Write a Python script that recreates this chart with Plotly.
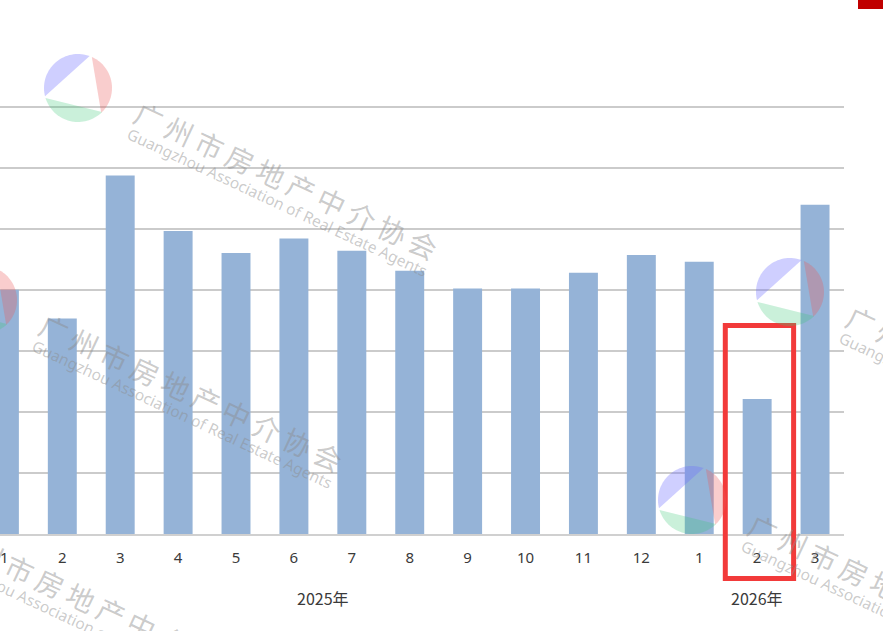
import math
import plotly.graph_objects as go

# ---- data (one gridline = 1 unit) ----
months = ["1", "2", "3", "4", "5", "6", "7", "8", "9", "10", "11", "12", "1", "2", "3"]
years = ["2025年"] * 12 + ["2026年"] * 3
values = [4.00, 3.53, 5.87, 4.96, 4.60, 4.84, 4.64, 4.31, 4.02, 4.02, 4.28, 4.57, 4.46, 2.21, 5.39]
highlight_index = 13

positions = list(range(len(months)))

# ---- layout geometry (pixels) ----
FIG_W, FIG_H = 883, 631
M_L, M_R, M_T, M_B = 0, 39, 76, 97
PW = FIG_W - M_L - M_R
PH = FIG_H - M_T - M_B
PLOT_BOTTOM = FIG_H - M_B


def px_x(px):
    return (px - M_L) / PW


def px_y(py):
    return (PLOT_BOTTOM - py) / PH


BAR_COLOR = "#95b3d7"
TEXT_COLOR = "#3a3a3a"

fig = go.Figure()
fig.add_trace(go.Bar(
    x=positions, y=values, width=0.5,
    marker=dict(color=BAR_COLOR, line=dict(width=0)),
    hoverinfo="skip", showlegend=False,
))

shapes = []
annotations = []

# group (year) labels under the month labels
for yr in dict.fromkeys(years):
    idx = [p for p, y in zip(positions, years) if y == yr]
    annotations.append(dict(
        x=sum(idx) / len(idx), xref="x", y=px_y(598), yref="paper",
        text=yr, showarrow=False, xanchor="center", yanchor="middle",
        font=dict(family="Noto Sans CJK SC", size=16, color=TEXT_COLOR),
    ))

# red highlight box around the highlighted bar
shapes.append(dict(
    type="rect", xref="x", yref="paper",
    x0=highlight_index - 0.55, x1=highlight_index + 0.63,
    y0=px_y(578.5), y1=px_y(325.5),
    line=dict(color="#f23a3a", width=5), fillcolor="rgba(0,0,0,0)", layer="above",
))

# small dark red block at the top right corner
shapes.append(dict(
    type="rect", xref="paper", yref="paper",
    x0=px_x(858), x1=px_x(884), y0=px_y(9), y1=px_y(-1),
    line=dict(width=0), fillcolor="#c00000", layer="above",
))


# ---- watermarks (logo + rotated text) ----
def segment_path(cx, cy, r, a0, a1, n=36):
    pts = []
    for k in range(n + 1):
        t = math.radians(a0 + (a1 - a0) * k / n)
        pts.append((px_x(cx + r * math.cos(t)), px_y(cy - r * math.sin(t))))
    d = "M " + " L ".join(f"{x:.5f},{y:.5f}" for x, y in pts) + " Z"
    return d


def add_logo(cx, cy, r=34):
    for a0, a1, col in [(70, 194, "rgba(110,110,255,0.33)"),
                        (-47, 66, "rgba(235,90,90,0.30)"),
                        (197, 315, "rgba(60,200,120,0.27)")]:
        shapes.append(dict(type="path", xref="paper", yref="paper",
                           path=segment_path(cx, cy, r, a0, a1),
                           fillcolor=col, line=dict(width=0), layer="above"))


WM_CN = "\u2009".join("广州市房地产中介协会")
WM_EN = "Guangzhou Association of Real Estate Agents"
WM_COLOR = "rgba(140,140,140,0.45)"


def add_watermark(lx, ly, logo=True):
    if logo:
        add_logo(lx, ly)
    annotations.append(dict(
        x=px_x(lx + 208), y=px_y(ly + 92), xref="paper", yref="paper",
        text=WM_CN, showarrow=False, textangle=25, xanchor="center", yanchor="middle",
        font=dict(family="Noto Sans CJK SC", size=28, color=WM_COLOR),
    ))
    annotations.append(dict(
        x=px_x(lx + 199), y=px_y(ly + 114), xref="paper", yref="paper",
        text=WM_EN, showarrow=False, textangle=25, xanchor="center", yanchor="middle",
        font=dict(family="Noto Sans", size=15.5, color=WM_COLOR),
    ))


add_watermark(78, 88)
add_watermark(-17, 300)
add_watermark(790, 292)
add_watermark(692, 500)
add_watermark(-112, 512, logo=False)

fig.update_layout(
    width=FIG_W, height=FIG_H,
    margin=dict(l=M_L, r=M_R, t=M_T, b=M_B, pad=0),
    paper_bgcolor="white", plot_bgcolor="white",
    bargap=0.5,
    xaxis=dict(
        range=[-0.076, len(months) - 0.5],
        tickmode="array", tickvals=positions, ticktext=months,
        showgrid=False, zeroline=False,
        showline=True, linecolor="#d0d0d0", linewidth=2,
        ticks="outside", ticklen=9, tickcolor="rgba(0,0,0,0)",
        tickfont=dict(family="Noto Sans", size=15, color=TEXT_COLOR),
        fixedrange=True,
    ),
    yaxis=dict(
        range=[0, 7.5], dtick=1, tick0=0,
        showgrid=True, gridcolor="#cbcbcb", gridwidth=1.5,
        zeroline=False, showticklabels=False, showline=False,
        fixedrange=True,
    ),
    shapes=shapes,
    annotations=annotations,
)

fig.write_html(
    "out.html",
    config={"displayModeBar": False},
    post_script="document.body.style.margin='0';document.body.style.overflow='hidden';",
)
